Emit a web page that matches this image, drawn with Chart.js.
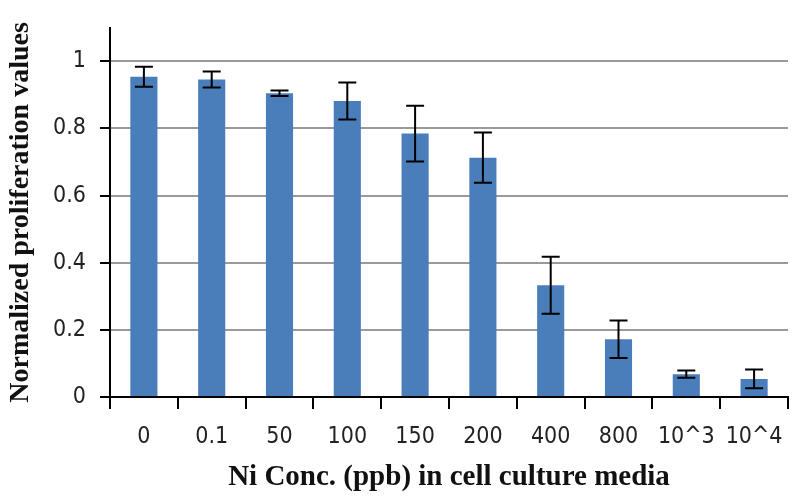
<!DOCTYPE html>
<html>
<head>
<meta charset="utf-8">
<script src="https://cdn.jsdelivr.net/npm/chart.js@4.4.0/dist/chart.umd.min.js"></script>
<style>
  html, body { margin: 0; padding: 0; background: #fff; }
  #wrap { width: 800px; height: 503px; }
</style>
</head>
<body>
<div id="wrap"><canvas id="chart" width="800" height="503"></canvas></div>
<script>
// values
var concLabels = ['0', '0.1', '50', '100', '150', '200', '400', '800', '10^3', '10^4'];
var meanValues = [0.954, 0.946, 0.905, 0.882, 0.785, 0.713, 0.333, 0.172, 0.068, 0.054];
var errValues  = [0.030, 0.024, 0.008, 0.055, 0.083, 0.075, 0.085, 0.056, 0.011, 0.028];
var yTicks     = [0, 0.2, 0.4, 0.6, 0.8, 1];

// simple error bar drawing on top of the bars
var errorBars = {
  id: 'errorBars',
  afterDatasetsDraw: function(chart) {
    var ctx = chart.ctx;
    var y = chart.scales.y;
    var meta = chart.getDatasetMeta(0);
    ctx.save();
    ctx.strokeStyle = '#000';
    ctx.lineWidth = 2;
    meta.data.forEach(function(bar, i) {
      var top = y.getPixelForValue(meanValues[i] + errValues[i]);
      var bot = y.getPixelForValue(meanValues[i] - errValues[i]);
      var cap = 9;
      ctx.beginPath();
      ctx.moveTo(bar.x, top); ctx.lineTo(bar.x, bot);
      ctx.moveTo(bar.x - cap, top); ctx.lineTo(bar.x + cap, top);
      ctx.moveTo(bar.x - cap, bot); ctx.lineTo(bar.x + cap, bot);
      ctx.stroke();
    });
    ctx.restore();
  }
};

var tickFont = { family: '"DejaVu Sans Condensed", "DejaVu Sans", sans-serif', size: 23 };

new Chart(document.getElementById('chart').getContext('2d'), {
  type: 'bar',
  data: {
    labels: concLabels,
    datasets: [{
      data: meanValues,
      backgroundColor: '#4a7ebb',
      borderWidth: 0,
      barPercentage: 0.4,
      categoryPercentage: 1.0
    }]
  },
  options: {
    responsive: false,
    animation: false,
    layout: { padding: { top: 13, right: 12, left: 0, bottom: 0 } },
    plugins: { legend: { display: false }, tooltip: { enabled: false } },
    scales: {
      x: {
        offset: true,
        grid: { offset: true, drawOnChartArea: false, drawTicks: true, tickLength: 12, color: '#000', lineWidth: 2 },
        border: { color: '#000', width: 2 },
        ticks: { font: tickFont, color: '#222', maxRotation: 0, autoSkip: false, padding: 14 },
        title: { display: true, text: 'Ni Conc. (ppb) in cell culture media',
                 font: { family: '"Liberation Serif", "Times New Roman", serif', size: 29, weight: 'bold' },
                 color: '#111', padding: { top: 0, bottom: 8 } },
        afterFit: function(s) { s.height = 106; }
      },
      y: {
        min: 0,
        max: 1.1,
        ticks: { font: tickFont, color: '#222', padding: 14,
                 callback: function(v) { return String(Math.round(v * 10) / 10); } },
        afterBuildTicks: function(s) {
          s.ticks = yTicks.map(function(v) { return { value: v }; });
        },
        grid: { color: '#9a9a9a', lineWidth: 2, tickLength: 10, tickColor: '#000' },
        border: { color: '#000', width: 2 },
        title: { display: true, text: 'Normalized proliferation values',
                 font: { family: '"Liberation Serif", "Times New Roman", serif', size: 28, weight: 'bold' },
                 color: '#111', padding: { top: 4, bottom: 0 } },
        afterFit: function(s) { s.width = 110; }
      }
    }
  },
  plugins: [errorBars]
});
</script>
</body>
</html>
